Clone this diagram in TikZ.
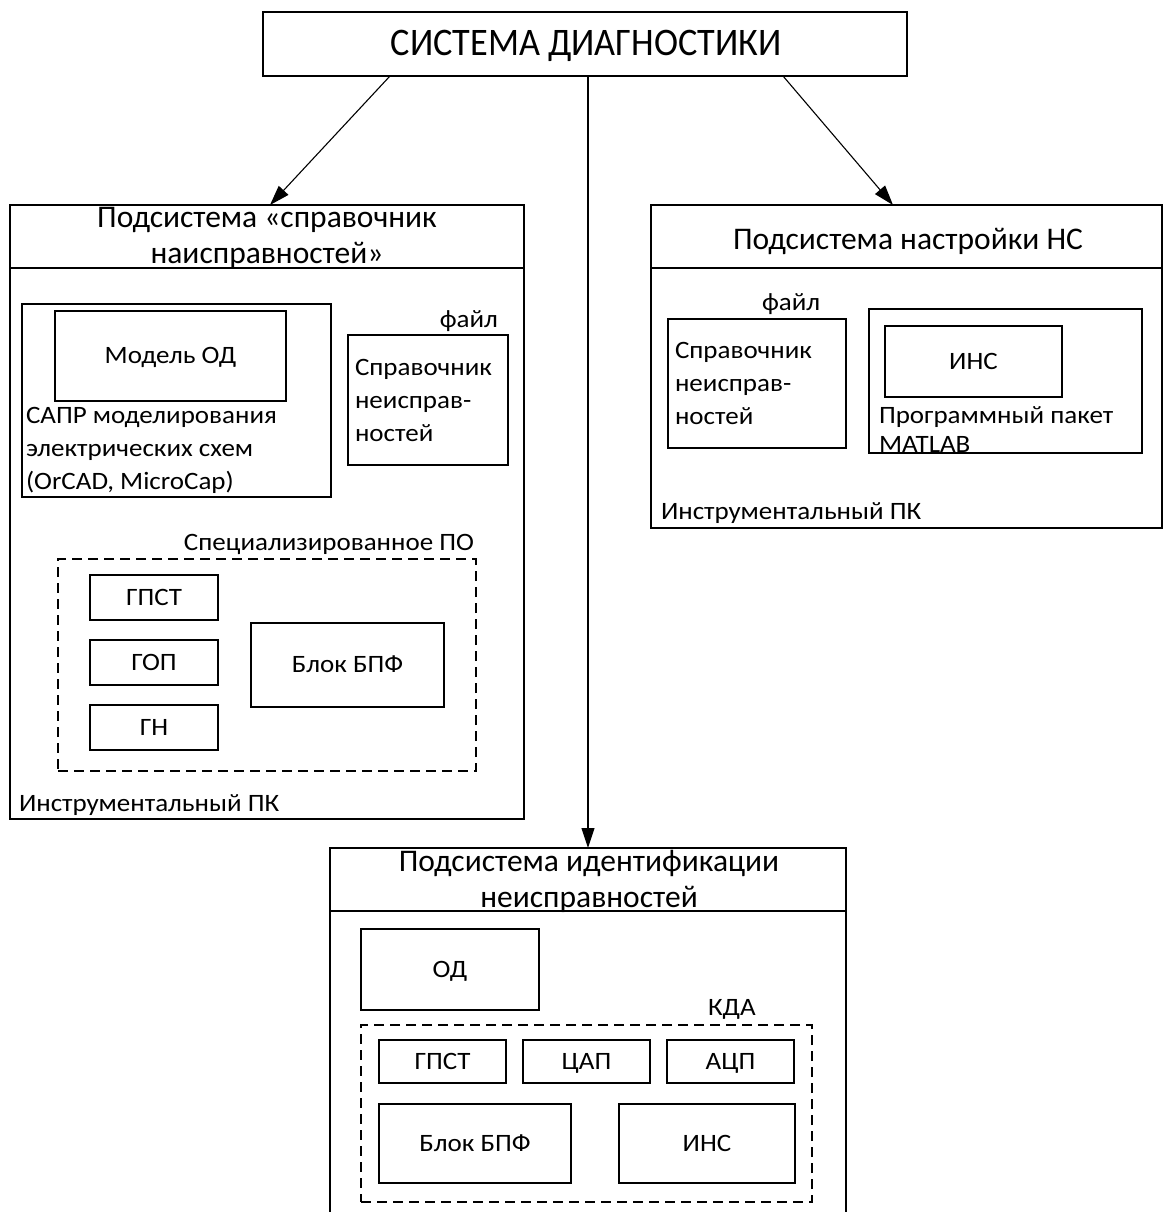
\documentclass[tikz,border=0pt]{standalone}
\usepackage{fontspec}
\setmainfont[FakeStretch=1.08]{Carlito}
\newfontfamily\headfont{Carlito}
\newfontfamily\titlefont[FakeStretch=0.93]{Carlito}
\usetikzlibrary{arrows.meta,positioning}
\tikzset{
  blk/.style={rectangle, draw, line width=1.4pt, inner sep=0pt, outer sep=0pt, font=\fontsize{25}{33}\selectfont},
  lbl/.style={blk, text height=20.5pt, text depth=4.75pt},
  grp/.style={blk, dash pattern=on 10pt off 6pt},
  txt/.style={inner sep=0pt, outer sep=0pt, font=\fontsize{25}{33}\selectfont},
  head/.style={txt, align=center, font=\headfont\fontsize{31.5}{36}\selectfont},
  arr/.style={-{Triangle[length=20pt,width=13pt]}, line width=1.1pt},
  sep/.style={line width=1.4pt}
}

\begin{document}
\begin{tikzpicture}[x=1pt, y=-1pt]
\useasboundingbox (0,0) rectangle (1166,1212);

\node[blk, minimum width=644pt, minimum height=64pt, anchor=north west] (sys) at (263,12) {};
\node[txt, anchor=base, font=\titlefont\fontsize{39}{46}\selectfont] (systxt) at (586,56) {СИСТЕМА ДИАГНОСТИКИ};

\node[blk, minimum width=514pt, minimum height=614pt, anchor=north west] (spr) at (10,205) {};
\node[head, anchor=base] (sprtxt) at (267,263) {Подсистема «справочник\\наисправностей»};
\draw[sep] (spr.west |- 0,268) -- (spr.east |- 0,268);
\node[blk, minimum width=309pt, minimum height=193pt, anchor=north west] (cad) at (22,304) {};
\node[lbl, minimum width=231pt, minimum height=90pt, anchor=north west] (model) at (55,311) {Модель ОД};
\node[txt, anchor=base west, align=left] (cadtxt) at (26,489) {САПР моделирования\\электрических схем\\(OrCAD, MicroCap)};
\node[blk, minimum width=160pt, minimum height=130pt, text width=146pt, inner xsep=7pt, align=left, anchor=north west] (book1) at (348,335) {Справочник\\неисправ-\\ностей};
\node[txt, anchor=base east] (file1) at (498,327) {файл};
\node[grp, minimum width=418pt, minimum height=212pt, anchor=north west] (spo) at (58,559) {};
\node[txt, anchor=base east] (spotxt) at (474,550) {Специализированное ПО};
\node[lbl, minimum width=128pt, minimum height=45pt, anchor=north west] (gpst1) at (90,575) {ГПСТ};
\node[lbl, minimum width=128pt, minimum height=45pt, below=20pt of gpst1] (gop) {ГОП};
\node[lbl, minimum width=128pt, minimum height=45pt, below=20pt of gop] (gn) {ГН};
\node[lbl, minimum width=193pt, minimum height=84pt, anchor=north west] (fft1) at (251,623) {Блок БПФ};
\node[txt, anchor=base west] (pc1) at (19,811) {Инструментальный ПК};

\node[blk, minimum width=511pt, minimum height=323pt, anchor=north west] (nast) at (651,205) {};
\node[head, anchor=base] (nasttxt) at (908,249) {Подсистема настройки НС};
\draw[sep] (nast.west |- 0,268) -- (nast.east |- 0,268);
\node[blk, minimum width=178pt, minimum height=129pt, text width=164pt, inner xsep=7pt, align=left, anchor=north west] (book2) at (668,319) {Справочник\\неисправ-\\ностей};
\node[txt, anchor=base west] (file2) at (762,310) {файл};
\node[blk, minimum width=273pt, minimum height=144pt, anchor=north west] (matlab) at (869,309) {};
\node[lbl, minimum width=177pt, minimum height=71pt, anchor=north west] (ins1) at (885,326) {ИНС};
\node[txt, anchor=base west, align=left, font=\fontsize{25}{29}\selectfont] (matlabtxt) at (879,452) {Программный пакет\\MATLAB};
\draw[sep] (matlab.south west) -- (matlab.south east);
\node[txt, anchor=base west] (pc2) at (661,519) {Инструментальный ПК};

\node[blk, minimum width=516pt, minimum height=420pt, anchor=north west] (idn) at (330,848) {};
\node[head, anchor=base] (idntxt) at (589,907) {Подсистема идентификации\\неисправностей};
\draw[sep] (idn.west |- 0,911) -- (idn.east |- 0,911);
\node[lbl, minimum width=178pt, minimum height=81pt, anchor=north west] (od) at (361,929) {ОД};
\node[grp, minimum width=451pt, minimum height=177pt, anchor=north west] (kda) at (361,1025) {};
\node[txt, anchor=base west] (kdatxt) at (708,1015) {КДА};
\node[lbl, minimum width=127pt, minimum height=43pt, anchor=north west] (gpst2) at (379,1040) {ГПСТ};
\node[lbl, minimum width=127pt, minimum height=43pt, right=17pt of gpst2] (dac) {ЦАП};
\node[lbl, minimum width=127pt, minimum height=43pt, right=17pt of dac] (adc) {АЦП};
\node[lbl, minimum width=192pt, minimum height=79pt, anchor=north west] (fft2) at (379,1104) {Блок БПФ};
\node[lbl, minimum width=176pt, minimum height=79pt, anchor=north west] (ins2) at (619,1104) {ИНС};

\draw[arr] ([xshift=127pt]sys.south west) -- ([xshift=260pt]spr.north west);
\draw[arr] ([xshift=-124pt]sys.south east) -- ([xshift=242pt]nast.north west);
\draw[arr] (idn.north |- sys.south) -- (idn.north);
\end{tikzpicture}
\end{document}
